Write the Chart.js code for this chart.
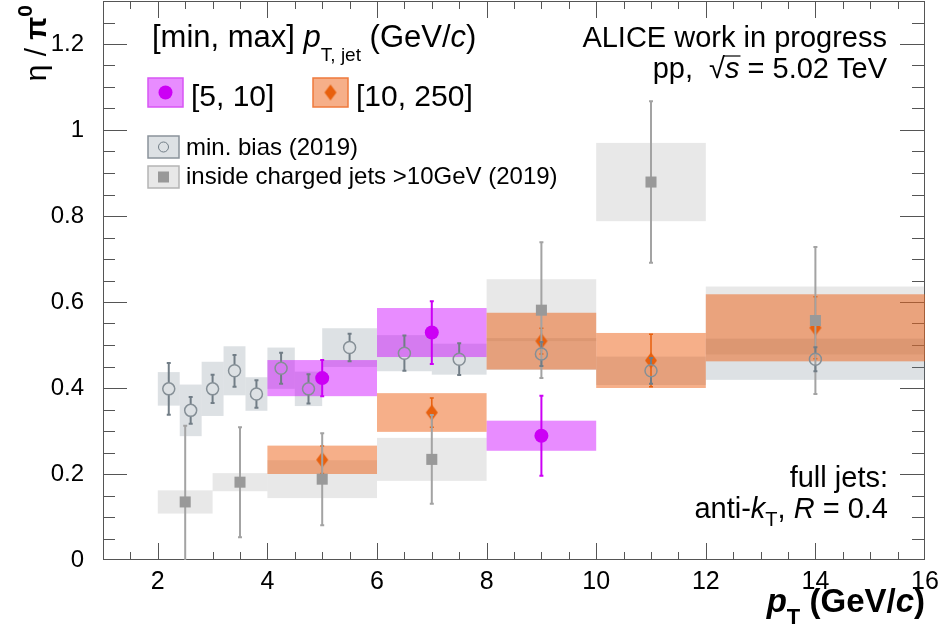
<!DOCTYPE html>
<html>
<head>
<meta charset="utf-8">
<script src="https://cdn.jsdelivr.net/npm/chart.js@4.4.1/dist/chart.umd.min.js"></script>
<style>
  body { margin: 0; background: #fff; }
  canvas { display: block; }
</style>
</head>
<body>
<canvas id="chart" width="943" height="636"></canvas>
<script>
// axis ticks
const xTicks = [2, 4, 6, 8, 10, 12, 14, 16];
const yTicks = [0, 0.2, 0.4, 0.6, 0.8, 1, 1.2];

// min. bias (2019), open circles
const mbX = [2.2, 2.6, 3.0, 3.4, 3.8, 4.25, 4.75, 5.5, 6.5, 7.5, 9, 11, 14];
const mbY = [0.398, 0.348, 0.398, 0.440, 0.386, 0.446, 0.398, 0.494, 0.481, 0.467, 0.479, 0.440, 0.467];
const mbStat = [0.060, 0.031, 0.033, 0.037, 0.032, 0.036, 0.034, 0.032, 0.041, 0.037, 0.028, 0.030, 0.028];
const mbSys = [0.039, 0.060, 0.063, 0.057, 0.039, 0.048, 0.040, 0.045, 0.042, 0.036, 0.037, 0.033, 0.048];
const mbLo = [2.0, 2.4, 2.8, 3.2, 3.6, 4.0, 4.5, 5.0, 6.0, 7.0, 8, 10, 12];
const mbHi = [2.4, 2.8, 3.2, 3.6, 4.0, 4.5, 5.0, 6.0, 7.0, 8.0, 10, 12, 16];

// inside charged jets >10GeV (2019), grey squares
const jetX = [2.5, 3.5, 5, 7, 9, 11, 14];
const jetY = [0.135, 0.181, 0.188, 0.234, 0.581, 0.879, 0.557];
const jetStat = [0.177, 0.128, 0.107, 0.103, 0.158, 0.188, 0.171];
const jetSys = [0.027, 0.021, 0.044, 0.050, 0.072, 0.091, 0.079];
const jetLo = [2, 3, 4, 6, 8, 10, 12];
const jetHi = [3, 4, 6, 8, 10, 12, 16];

// [5, 10] GeV/c jets
const lowX = [5, 7, 9];
const lowY = [0.423, 0.529, 0.289];
const lowStat = [0.042, 0.073, 0.093];
const lowSys = [0.042, 0.057, 0.035];
const lowLo = [4, 6, 8];
const lowHi = [6, 8, 10];

// [10, 250] GeV/c jets
const highX = [5, 7, 9, 11, 14];
const highY = [0.233, 0.343, 0.509, 0.464, 0.540];
const highStat = [0.032, 0.034, 0.030, 0.061, 0.072];
const highSys = [0.033, 0.045, 0.066, 0.064, 0.078];
const highLo = [4, 6, 8, 10, 12];
const highHi = [6, 8, 10, 12, 16];

const FONT = '"Liberation Sans", Arial, sans-serif';
const MB_BOX = 'rgba(110,125,140,0.23)';
const MB_LINE = '#717d86';
const JET_BOX = 'rgba(128,128,128,0.18)';
const JET_MARK = '#999999';
const JET_LINE = '#a3a3a3';
const LOW_BOX = 'rgba(204,0,255,0.45)';
const LOW_COL = '#cc00f5';
const HIGH_BOX = 'rgba(238,96,20,0.5)';
const HIGH_COL = '#e8600e';

function diamond(color, hw, hh) {
  const c = document.createElement('canvas');
  c.width = hw * 2 + 2;
  c.height = hh * 2 + 2;
  const g = c.getContext('2d');
  g.fillStyle = color;
  g.beginPath();
  g.moveTo(hw + 1, 1);
  g.lineTo(2 * hw + 1, hh + 1);
  g.lineTo(hw + 1, 2 * hh + 1);
  g.lineTo(1, hh + 1);
  g.closePath();
  g.fill();
  return c;
}
const diamondMark = diamond(HIGH_COL, 6, 8);

function pts(xs, ys) {
  return xs.map((x, i) => ({x, y: ys[i]}));
}

// frame with ROOT-like inward ticks on all four sides
const frameTicks = {
  id: 'frameTicks',
  beforeDatasetsDraw(chart) {
    const {ctx, chartArea: a, scales: {x, y}} = chart;
    ctx.save();
    ctx.strokeStyle = '#555';
    ctx.lineWidth = 1;
    ctx.strokeRect(a.left + 0.5, a.top + 0.5, a.right - a.left - 1, a.bottom - a.top - 1);
    ctx.beginPath();
    for (let k = 3; k < 32; k++) {
      const v = k * 0.5;
      const px = Math.round(x.getPixelForValue(v)) + 0.5;
      const len = k % 4 === 0 ? 17 : 8;
      ctx.moveTo(px, a.bottom); ctx.lineTo(px, a.bottom - len);
      ctx.moveTo(px, a.top); ctx.lineTo(px, a.top + len);
    }
    for (let k = 1; k < 26; k++) {
      const py = Math.round(y.getPixelForValue(k * 0.05)) + 0.5;
      const major = k % 4 === 0;
      ctx.moveTo(a.left, py); ctx.lineTo(a.left + (major ? 24 : 12), py);
      ctx.moveTo(a.right, py); ctx.lineTo(a.right - (major ? 25 : 13), py);
    }
    ctx.stroke();
    ctx.restore();
  }
};

// systematic uncertainty boxes
const sysBoxes = {
  id: 'sysBoxes',
  beforeDatasetsDraw(chart) {
    const {ctx, chartArea: a, scales: {x, y}} = chart;
    ctx.save();
    ctx.beginPath();
    ctx.rect(a.left, a.top, a.right - a.left, a.bottom - a.top);
    ctx.clip();
    chart.data.datasets.forEach(ds => {
      ctx.fillStyle = ds.boxColor;
      ds.data.forEach((p, i) => {
        const x0 = x.getPixelForValue(ds.binLo[i]);
        const x1 = x.getPixelForValue(ds.binHi[i]);
        const y0 = y.getPixelForValue(p.y + ds.sys[i]);
        const y1 = y.getPixelForValue(p.y - ds.sys[i]);
        ctx.fillRect(x0, y0, x1 - x0, y1 - y0);
      });
    });
    ctx.restore();
  }
};

// statistical error bars, drawn just under each dataset's markers
const statBars = {
  id: 'statBars',
  beforeDatasetDraw(chart, args) {
    const ds = chart.data.datasets[args.index];
    const {ctx, chartArea: a, scales: {x, y}} = chart;
    ctx.save();
    ctx.beginPath();
    ctx.rect(a.left, a.top, a.right - a.left, a.bottom - a.top);
    ctx.clip();
    ctx.strokeStyle = ds.barColor;
    ctx.lineWidth = ds.barWidth;
    ctx.beginPath();
    ds.data.forEach((p, i) => {
      const px = x.getPixelForValue(p.x);
      const pc = y.getPixelForValue(p.y);
      const pt = y.getPixelForValue(p.y + ds.stat[i]);
      const pb = y.getPixelForValue(p.y - ds.stat[i]);
      const gap = ds.gap || 0;
      if (pc - gap > pt) { ctx.moveTo(px, pc - gap); ctx.lineTo(px, pt); }
      if (pc + gap < pb) { ctx.moveTo(px, pc + gap); ctx.lineTo(px, pb); }
      ctx.moveTo(px - 2, pt); ctx.lineTo(px + 2, pt);
      ctx.moveTo(px - 2, pb); ctx.lineTo(px + 2, pb);
    });
    ctx.stroke();
    ctx.restore();
  }
};

function drawRich(ctx, x, y, runs, align) {
  let w = 0;
  runs.forEach(r => { ctx.font = r.font; r.w = ctx.measureText(r.t).width; w += r.w; });
  let cx = align === 'right' ? x - w : x;
  runs.forEach(r => {
    ctx.font = r.font;
    ctx.fillText(r.t, cx, y + (r.dy || 0));
    if (r.over) {
      ctx.save();
      ctx.lineWidth = 1.2;
      ctx.strokeStyle = ctx.fillStyle;
      ctx.beginPath();
      ctx.moveTo(cx - 1, y - r.over);
      ctx.lineTo(cx + r.w + 1, y - r.over);
      ctx.stroke();
      ctx.restore();
    }
    cx += r.w;
  });
}

const n = s => s + 'px ' + FONT;
const it = s => 'italic ' + s + 'px ' + FONT;
const bd = s => 'bold ' + s + 'px ' + FONT;
const bi = s => 'italic bold ' + s + 'px ' + FONT;

const texts = {
  id: 'texts',
  afterDraw(chart) {
    const ctx = chart.ctx;
    ctx.save();
    ctx.fillStyle = '#000';
    ctx.textAlign = 'left';
    ctx.textBaseline = 'alphabetic';

    drawRich(ctx, 152, 47, [
      {t: '[min, max] ', font: n(31)},
      {t: 'p', font: it(31)},
      {t: 'T, jet', font: n(19), dy: 14},
      {t: ' (GeV/', font: n(31)},
      {t: 'c', font: it(31)},
      {t: ')', font: n(31)}
    ]);

    // legend row 1
    ctx.fillStyle = LOW_BOX;
    ctx.fillRect(148, 78, 35, 29);
    ctx.strokeStyle = '#d855f5';
    ctx.lineWidth = 1.5;
    ctx.strokeRect(148, 78, 35, 29);
    ctx.fillStyle = LOW_COL;
    ctx.beginPath(); ctx.arc(165.5, 92.5, 7, 0, Math.PI * 2); ctx.fill();

    ctx.fillStyle = HIGH_BOX;
    ctx.fillRect(313, 78, 35, 29);
    ctx.strokeStyle = '#ef7a3c';
    ctx.strokeRect(313, 78, 35, 29);
    ctx.drawImage(diamondMark, 330.5 - diamondMark.width / 2, 92.5 - diamondMark.height / 2);

    ctx.fillStyle = '#000';
    drawRich(ctx, 191, 106, [{t: '[5, 10]', font: n(30)}]);
    drawRich(ctx, 356, 106, [{t: '[10, 250]', font: n(30)}]);

    // legend rows 2, 3
    ctx.fillStyle = MB_BOX;
    ctx.fillRect(148, 136, 31, 22);
    ctx.strokeStyle = '#8a939a';
    ctx.lineWidth = 1.5;
    ctx.strokeRect(148, 136, 31, 22);
    ctx.strokeStyle = MB_LINE;
    ctx.lineWidth = 1;
    ctx.beginPath(); ctx.arc(163.5, 147, 5, 0, Math.PI * 2); ctx.stroke();

    ctx.fillStyle = JET_BOX;
    ctx.fillRect(148, 166, 31, 22);
    ctx.strokeStyle = '#b5b5b5';
    ctx.lineWidth = 1.5;
    ctx.strokeRect(148, 166, 31, 22);
    ctx.fillStyle = JET_MARK;
    ctx.fillRect(158, 171.5, 11, 11);

    ctx.fillStyle = '#000';
    drawRich(ctx, 186, 155, [{t: 'min. bias (2019)', font: n(24)}]);
    drawRich(ctx, 186, 184, [{t: 'inside charged jets >10GeV (2019)', font: n(24)}]);

    // top right
    drawRich(ctx, 887, 47, [{t: 'ALICE work in progress', font: n(29)}], 'right');
    drawRich(ctx, 887, 78, [
      {t: 'pp,  ', font: n(29)},
      {t: '\u221A', font: n(29)},
      {t: 's', font: it(29), over: 22},
      {t: ' = 5.02 TeV', font: n(29)}
    ], 'right');

    // bottom right
    drawRich(ctx, 888, 487, [{t: 'full jets:', font: n(29)}], 'right');
    drawRich(ctx, 888, 518, [
      {t: 'anti-', font: n(29)},
      {t: 'k', font: it(29)},
      {t: 'T', font: n(20), dy: 8},
      {t: ', ', font: n(29)},
      {t: 'R', font: it(29)},
      {t: ' = 0.4', font: n(29)}
    ], 'right');

    // x axis title
    drawRich(ctx, 925, 612, [
      {t: 'p', font: bi(33)},
      {t: 'T', font: bd(22), dy: 12},
      {t: ' (GeV/', font: bd(33)},
      {t: 'c', font: bi(33)},
      {t: ')', font: bd(33)}
    ], 'right');

    // y axis title, rotated, aligned to the top
    ctx.translate(46, 5);
    ctx.rotate(-Math.PI / 2);
    drawRich(ctx, 0, 0, [
      {t: '\u03B7 / ', font: n(30)},
      {t: '\u03C0', font: bd(30)},
      {t: '0', font: bd(21), dy: -14}
    ], 'right');
    ctx.restore();
  }
};

const ctx = document.getElementById('chart').getContext('2d');

new Chart(ctx, {
  type: 'scatter',
  data: {
    datasets: [
      {
        label: 'min. bias (2019)',
        data: pts(mbX, mbY),
        stat: mbStat, sys: mbSys, binLo: mbLo, binHi: mbHi,
        boxColor: MB_BOX, barColor: MB_LINE, barWidth: 2, gap: 6,
        pointStyle: 'circle', radius: 6,
        backgroundColor: 'rgba(0,0,0,0)', borderColor: '#858f96', borderWidth: 1.5
      },
      {
        label: 'inside charged jets >10GeV (2019)',
        data: pts(jetX, jetY),
        stat: jetStat, sys: jetSys, binLo: jetLo, binHi: jetHi,
        boxColor: JET_BOX, barColor: JET_LINE, barWidth: 2,
        pointStyle: 'rect', radius: 7.8,
        backgroundColor: JET_MARK, borderColor: JET_MARK, borderWidth: 0
      },
      {
        label: '[5, 10]',
        data: pts(lowX, lowY),
        stat: lowStat, sys: lowSys, binLo: lowLo, binHi: lowHi,
        boxColor: LOW_BOX, barColor: LOW_COL, barWidth: 2,
        pointStyle: 'circle', radius: 7,
        backgroundColor: LOW_COL, borderColor: LOW_COL, borderWidth: 0
      },
      {
        label: '[10, 250]',
        data: pts(highX, highY),
        stat: highStat, sys: highSys, binLo: highLo, binHi: highHi,
        boxColor: HIGH_BOX, barColor: HIGH_COL, barWidth: 1.5,
        pointStyle: diamondMark, radius: 8
      }
    ]
  },
  options: {
    responsive: false,
    animation: false,
    events: [],
    layout: { autoPadding: false, padding: { left: 0, right: 18, top: 1, bottom: 0 } },
    plugins: {
      legend: { display: false },
      tooltip: { enabled: false }
    },
    scales: {
      x: {
        type: 'linear',
        min: 1,
        max: 16,
        afterBuildTicks: s => { s.ticks = xTicks.map(v => ({value: v})); },
        afterFit: s => { s.height = 76; s.paddingLeft = 0; s.paddingRight = 0; },
        grid: { display: false },
        border: { display: false },
        ticks: { color: '#000', font: { family: FONT, size: 25 }, padding: -1, maxRotation: 0, autoSkip: false }
      },
      y: {
        min: 0,
        max: 1.3,
        afterBuildTicks: s => { s.ticks = yTicks.map(v => ({value: v})); },
        afterFit: s => { s.width = 103; s.paddingTop = 0; s.paddingBottom = 0; },
        grid: { display: false },
        border: { display: false },
        ticks: {
          color: '#000', font: { family: FONT, size: 24 }, padding: 11, autoSkip: false,
          callback: v => String(+v.toFixed(2))
        }
      }
    }
  },
  plugins: [frameTicks, sysBoxes, statBars, texts]
});
</script>
</body>
</html>
